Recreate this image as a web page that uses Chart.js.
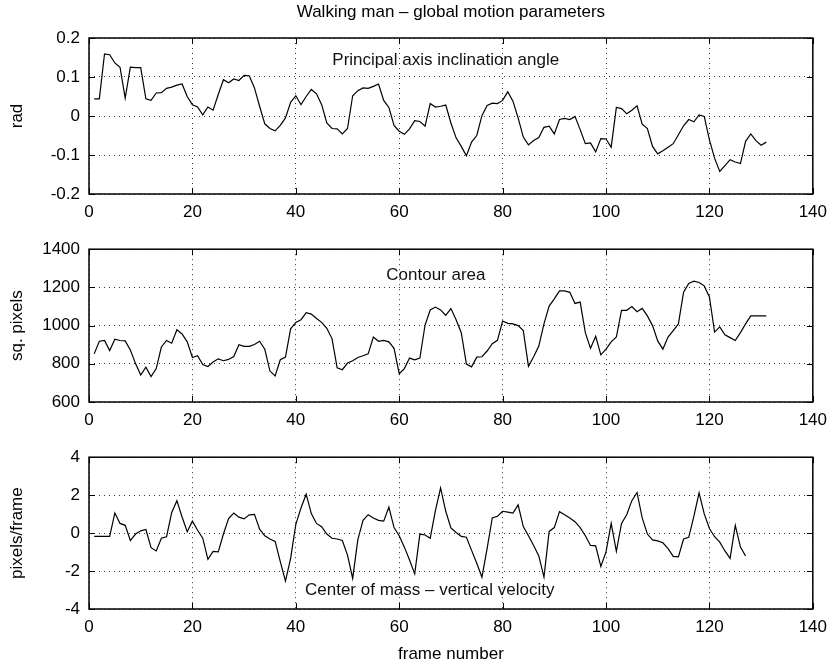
<!DOCTYPE html>
<html>
<head>
<meta charset="utf-8">
<title>Walking man – global motion parameters</title>
<script src="https://cdn.jsdelivr.net/npm/chart.js@4.4.1/dist/chart.umd.min.js"></script>
<style>
  html, body { margin: 0; padding: 0; background: #fff; }
  #wrap { position: relative; width: 835px; height: 668px; }
  canvas { position: absolute; left: 0; }
</style>
</head>
<body>
<div id="wrap">
  <canvas id="angle" width="835" height="230" style="top:0px"></canvas>
  <canvas id="area" width="835" height="208" style="top:230px"></canvas>
  <canvas id="velocity" width="835" height="230" style="top:438px"></canvas>
</div>
<script>
// Frame axis, shared by the three panels
var frameTicks = [0, 20, 40, 60, 80, 100, 120, 140];

// Principal axis inclination angle (rad), frames 1..131
var angleValues = [
	0.044, 0.044, 0.159, 0.157, 0.136, 0.125, 0.046, 0.125, 0.124, 0.124,
	0.044, 0.040, 0.059, 0.060, 0.071, 0.074, 0.079, 0.082, 0.050, 0.029,
	0.023, 0.003, 0.023, 0.015, 0.055, 0.093, 0.085, 0.095, 0.091, 0.104,
	0.103, 0.072, 0.025, -0.020, -0.032, -0.038, -0.024, -0.005, 0.035, 0.052,
	0.029, 0.050, 0.068, 0.057, 0.029, -0.018, -0.032, -0.033, -0.046, -0.032,
	0.052, 0.065, 0.072, 0.071, 0.076, 0.082, 0.040, 0.022, -0.024, -0.039,
	-0.047, -0.033, -0.012, -0.014, -0.026, 0.032, 0.023, 0.025, 0.028, -0.018,
	-0.056, -0.078, -0.102, -0.067, -0.050, 0.001, 0.027, 0.033, 0.032, 0.040,
	0.062, 0.038, -0.005, -0.054, -0.074, -0.063, -0.055, -0.029, -0.026, -0.046,
	-0.009, -0.006, -0.009, -0.001, -0.035, -0.071, -0.069, -0.092, -0.058, -0.059,
	-0.080, 0.022, 0.019, 0.006, 0.015, 0.026, -0.021, -0.032, -0.078, -0.097,
	-0.089, -0.080, -0.071, -0.048, -0.025, -0.009, -0.015, 0.003, -0.001, -0.061,
	-0.108, -0.142, -0.127, -0.112, -0.118, -0.122, -0.065, -0.046, -0.063, -0.075,
	-0.067
];
var angleTicks = [-0.2, -0.1, 0, 0.1, 0.2];
var angleTickLabels = ["-0.2", "-0.1", "0", "0.1", "0.2"];

// Contour area (sq. pixels), frames 1..131
var areaValues = [
	852, 918, 922, 869, 929, 922, 920, 872, 801, 741,
	782, 733, 775, 888, 922, 908, 978, 956, 915, 833,
	842, 796, 786, 809, 826, 816, 823, 838, 900, 891,
	891, 901, 918, 876, 762, 736, 821, 835, 983, 1017,
	1031, 1068, 1060, 1037, 1017, 986, 932, 779, 769, 804,
	816, 833, 842, 852, 940, 918, 923, 915, 881, 748,
	775, 830, 821, 830, 1003, 1082, 1097, 1082, 1054, 1089,
	1031, 963, 799, 784, 835, 837, 867, 905, 923, 1024,
	1012, 1009, 1000, 974, 787, 837, 893, 1009, 1102, 1140,
	1182, 1182, 1174, 1116, 1123, 963, 881, 944, 847, 877,
	915, 940, 1080, 1080, 1100, 1073, 1090, 1051, 1000, 920,
	877, 940, 974, 1009, 1175, 1221, 1233, 1226, 1208, 1150,
	966, 993, 952, 937, 922, 963, 1009, 1051, 1051, 1051,
	1051
];
var areaTicks = [600, 800, 1000, 1200, 1400];
var areaTickLabels = ["600", "800", "1000", "1200", "1400"];

// Center of mass vertical velocity (pixels/frame), frames 1..127
var velocityValues = [
	-0.17, -0.17, -0.17, -0.17, 1.06, 0.51, 0.41, -0.39, -0.05, 0.12,
	0.19, -0.77, -0.94, -0.27, -0.19, 1.09, 1.71, 0.85, 0.07, 0.63,
	0.15, -0.27, -1.38, -0.96, -0.99, -0.05, 0.77, 1.06, 0.84, 0.75,
	0.96, 0.99, 0.21, -0.14, -0.31, -0.44, -1.50, -2.53, -1.33, 0.46,
	1.32, 2.05, 1.03, 0.51, 0.34, -0.05, -0.27, -0.31, -0.39, -1.16,
	-2.39, -0.34, 0.67, 0.97, 0.80, 0.67, 0.63, 1.37, 0.29, -0.14,
	-0.74, -1.42, -2.15, -0.05, -0.10, -0.27, 1.18, 2.38, 1.15, 0.27,
	0.03, -0.17, -0.22, -0.91, -1.59, -2.32, -0.82, 0.80, 0.89, 1.15,
	1.11, 1.06, 1.49, 0.34, -0.14, -0.65, -1.20, -2.32, 0.09, 0.29,
	1.13, 0.97, 0.80, 0.60, 0.29, -0.14, -0.65, -0.67, -1.76, -0.99,
	0.51, -0.96, 0.51, 0.97, 1.71, 2.14, 0.80, -0.05, -0.36, -0.41,
	-0.51, -0.82, -1.23, -1.25, -0.31, -0.22, 0.89, 2.12, 1.01, 0.24,
	-0.19, -0.48, -0.94, -1.33, 0.41, -0.74, -1.21
];
var velocityTicks = [-4, -2, 0, 2, 4];
var velocityTickLabels = ["-4", "-2", "0", "2", "4"];

var fontFamily = '"Liberation Sans", Arial, Helvetica, sans-serif';
Chart.defaults.font.family = fontFamily;
Chart.defaults.font.size = 17;
Chart.defaults.color = "#000";

// Matlab style box: frame on all four sides, inward tick marks, and a text note inside
var matlabBox = {
	id: "matlabBox",
	afterDatasetsDraw(chart, args, opts) {
		var a = chart.chartArea;
		var ctx = chart.ctx;
		var xs = chart.scales.x;
		var ys = chart.scales.y;
		ctx.save();
		ctx.strokeStyle = "#000";
		ctx.lineWidth = 1;
		ctx.beginPath();
		xs.ticks.forEach(function(t) {
			var p = Math.round(xs.getPixelForValue(t.value)) + 0.5;
			ctx.moveTo(p, a.bottom);
			ctx.lineTo(p, a.bottom - 6);
			ctx.moveTo(p, a.top);
			ctx.lineTo(p, a.top + 6);
		});
		ys.ticks.forEach(function(t) {
			var p = Math.round(ys.getPixelForValue(t.value)) + 0.5;
			ctx.moveTo(a.left, p);
			ctx.lineTo(a.left + 6, p);
			ctx.moveTo(a.right, p);
			ctx.lineTo(a.right - 6, p);
		});
		ctx.stroke();
		ctx.lineWidth = 1.5;
		ctx.strokeRect(a.left, a.top, a.right - a.left, a.bottom - a.top);

		ctx.font = "17px " + fontFamily;
		ctx.fillStyle = "#111";
		ctx.textAlign = "center";
		ctx.textBaseline = "alphabetic";
		ctx.fillText(opts.text, xs.getPixelForValue(opts.x), ys.getPixelForValue(opts.y));
		ctx.restore();
	}
};

function panel(id, values, yTicks, yLabels, yTitle, note, extra) {
	var points = values.map(function(v, i) { return {x: i + 1, y: v}; });
	return new Chart(document.getElementById(id), {
		type: "line",
		data: {
			datasets: [{
				data: points,
				borderColor: "#000",
				borderWidth: 1.2,
				pointRadius: 0,
				tension: 0,
				fill: false
			}]
		},
		options: {
			responsive: false,
			animation: false,
			layout: {padding: {left: 0, right: 21, top: extra.top, bottom: 0}},
			plugins: {
				legend: {display: false},
				tooltip: {enabled: false},
				title: extra.title || {display: false},
				matlabBox: note
			},
			scales: {
				x: {
					type: "linear",
					min: frameTicks[0],
					max: frameTicks[frameTicks.length - 1],
					afterBuildTicks: function(s) { s.ticks = frameTicks.map(function(v) { return {value: v}; }); },
					afterFit: function(s) { s.height = extra.xHeight; },
					grid: {color: "#333", lineWidth: 1, drawTicks: false},
					border: {display: false, dash: [1, 4]},
					ticks: {padding: 8, maxRotation: 0, autoSkip: false, callback: function(v) { return String(v); }},
					title: extra.xTitle || {display: false}
				},
				y: {
					min: yTicks[0],
					max: yTicks[yTicks.length - 1],
					afterBuildTicks: function(s) { s.ticks = yTicks.map(function(v) { return {value: v}; }); },
					afterFit: function(s) { s.width = 89; },
					grid: {color: "#333", lineWidth: 1, drawTicks: false},
					border: {display: false, dash: [1, 4]},
					ticks: {padding: 9, autoSkip: false, callback: function(v, i) { return yLabels[i]; }},
					title: {display: true, text: yTitle, padding: {top: 7, bottom: 0}}
				}
			}
		},
		plugins: [matlabBox]
	});
}

panel("angle", angleValues, angleTicks, angleTickLabels, "rad",
	{text: "Principal axis inclination angle", x: 69, y: 0.131},
	{top: 0, xHeight: 36, title: {
		display: true,
		text: "Walking man \u2013 global motion parameters",
		fullSize: false,
		font: {size: 17, weight: "normal"},
		color: "#000",
		padding: {top: 2, bottom: 15.6}
	}});

panel("area", areaValues, areaTicks, areaTickLabels, "sq. pixels",
	{text: "Contour area", x: 67.1, y: 1237},
	{top: 15, xHeight: 36});

panel("velocity", velocityValues, velocityTicks, velocityTickLabels, "pixels/frame",
	{text: "Center of mass \u2013 vertical velocity", x: 65.9, y: -3.25},
	{top: 15, xHeight: 59, xTitle: {display: true, text: "frame number", padding: {top: 0, bottom: 3}}});
</script>
</body>
</html>
